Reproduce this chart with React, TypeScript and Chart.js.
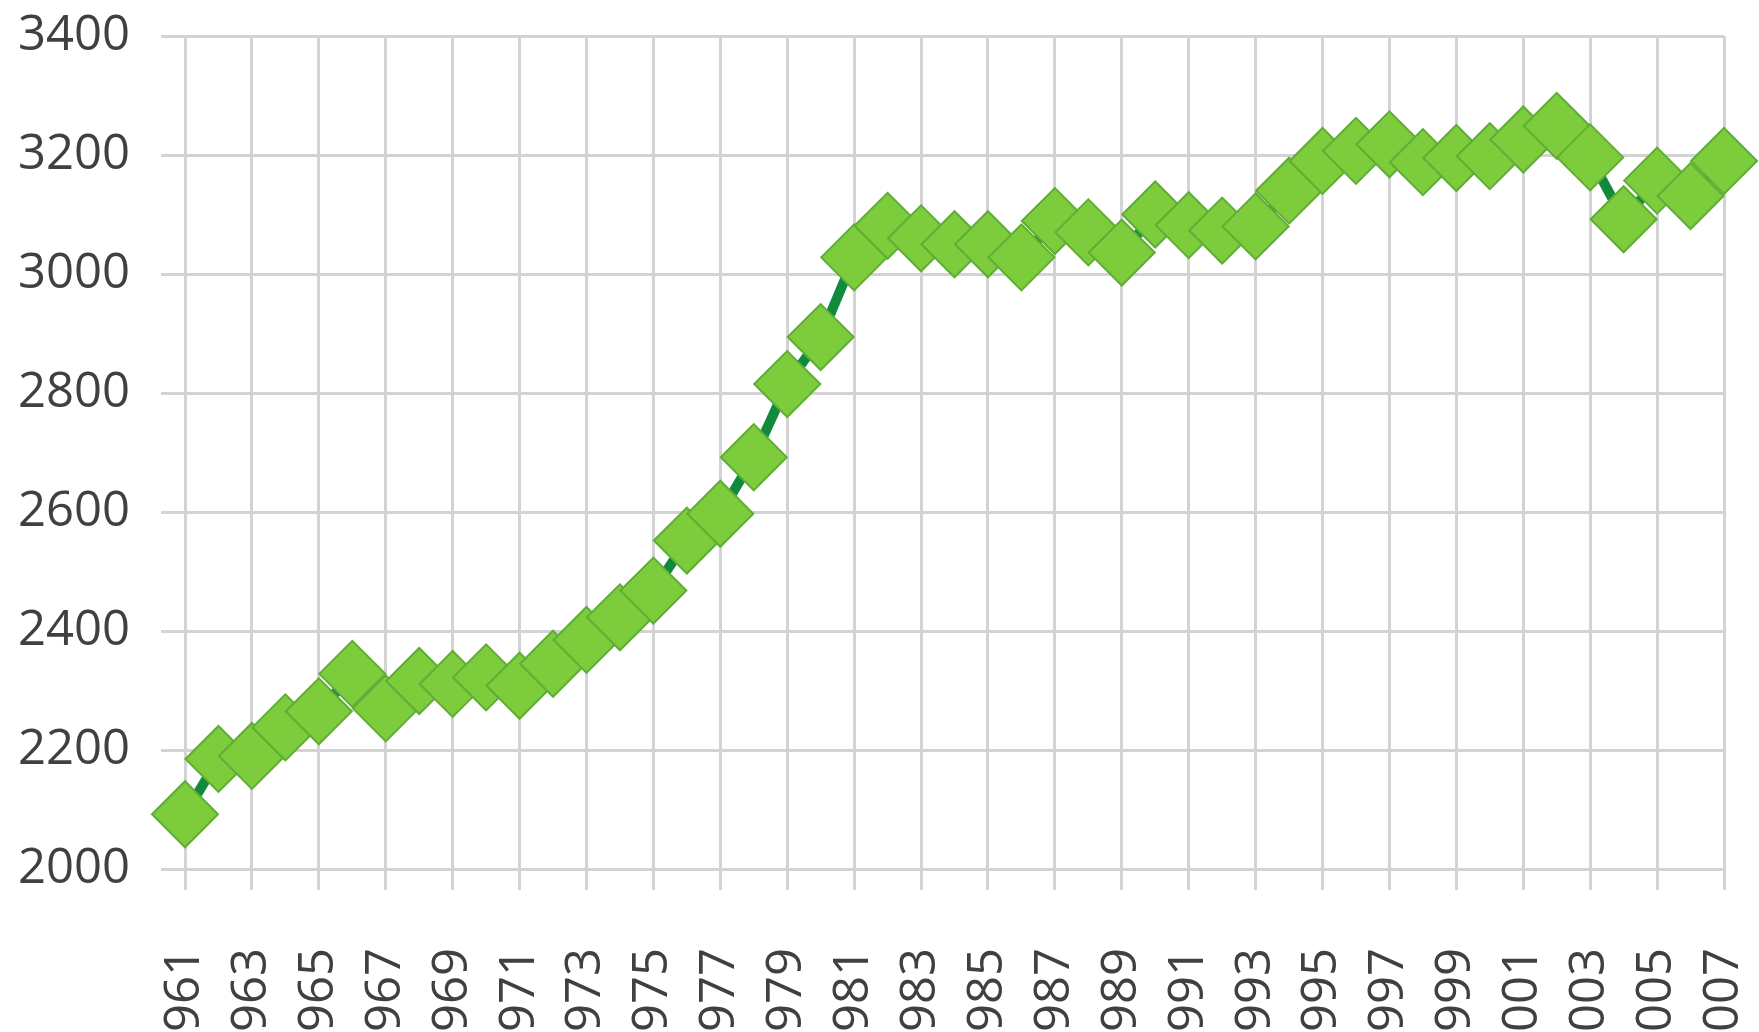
import React, { useEffect, useRef } from "react";
import { Chart, registerables } from "chart.js";

Chart.register(...registerables);

const years: string[] = [
  "1961", "1962", "1963", "1964", "1965", "1966", "1967", "1968", "1969", "1970",
  "1971", "1972", "1973", "1974", "1975", "1976", "1977", "1978", "1979", "1980",
  "1981", "1982", "1983", "1984", "1985", "1986", "1987", "1988", "1989", "1990",
  "1991", "1992", "1993", "1994", "1995", "1996", "1997", "1998", "1999", "2000",
  "2001", "2002", "2003", "2004", "2005", "2006", "2007",
];

const values: number[] = [
  2092, 2185, 2190, 2238, 2265, 2328, 2270, 2316, 2311, 2322,
  2308, 2345, 2385, 2423, 2468, 2552, 2597, 2692, 2815, 2894,
  3028, 3081, 3060, 3050, 3050, 3028, 3089, 3070, 3036, 3100,
  3082, 3073, 3080, 3140, 3190, 3207, 3218, 3188, 3195, 3198,
  3226, 3249, 3196, 3092, 3157, 3131, 3190,
];

const yMin = 2000;
const yMax = 3400;
const yStep = 200;

const GRID = "#d3d3d3";
const TEXT = "#404040";
const W = 1759;
const H = 1081;

export default function App() {
  const ref = useRef<HTMLCanvasElement | null>(null);

  useEffect(() => {
    if (!ref.current) return;
    const chart = new Chart(ref.current, {
      type: "line",
      data: {
        labels: years,
        datasets: [
          {
            data: values,
            borderColor: "#128a3c",
            borderWidth: 10,
            pointStyle: "rectRot",
            pointRadius: 33,
            pointBackgroundColor: "#7dcc3c",
            pointBorderColor: "#5fad35",
            pointBorderWidth: 2,
            tension: 0,
            clip: false,
          } as any,
        ],
      },
      options: {
        responsive: false,
        animation: false,
        layout: { padding: { left: 20, right: 32, top: 36, bottom: 0 } },
        plugins: {
          legend: { display: false },
          tooltip: { enabled: false },
        },
        scales: {
          x: {
            type: "category",
            offset: false,
            grid: { color: GRID, lineWidth: 3, tickLength: 21, tickColor: GRID },
            border: { display: true, color: GRID, width: 3 },
            ticks: {
              autoSkip: false,
              minRotation: 90,
              maxRotation: 90,
              padding: 58,
              color: TEXT,
              font: { family: "'Open Sans'", size: 49 },
              callback: (_v: any, i: number) => (i % 2 === 0 ? years[i] : null),
            },
            afterFit: (s: any) => {
              s.height = H - 869;
              s.paddingLeft = 0;
              s.paddingRight = 0;
            },
          },
          y: {
            min: yMin,
            max: yMax,
            grid: { color: GRID, lineWidth: 3, tickLength: 24, tickColor: GRID },
            border: { display: true, color: GRID, width: 3 },
            ticks: {
              stepSize: yStep,
              padding: 31,
              color: TEXT,
              font: { family: "'Open Sans'", size: 49 },
              callback: (v: any) => String(v),
            },
            afterFit: (s: any) => {
              s.width = 165;
              s.paddingTop = 0;
              s.paddingBottom = 0;
            },
          },
        },
      },
    });
    return () => chart.destroy();
  }, []);

  return (
    <div style={{ position: "fixed", inset: 0, overflow: "hidden", background: "#ffffff" }}>
      <canvas
        ref={ref}
        width={W}
        height={H}
        style={{ display: "block", width: W, height: H }}
      />
    </div>
  );
}
